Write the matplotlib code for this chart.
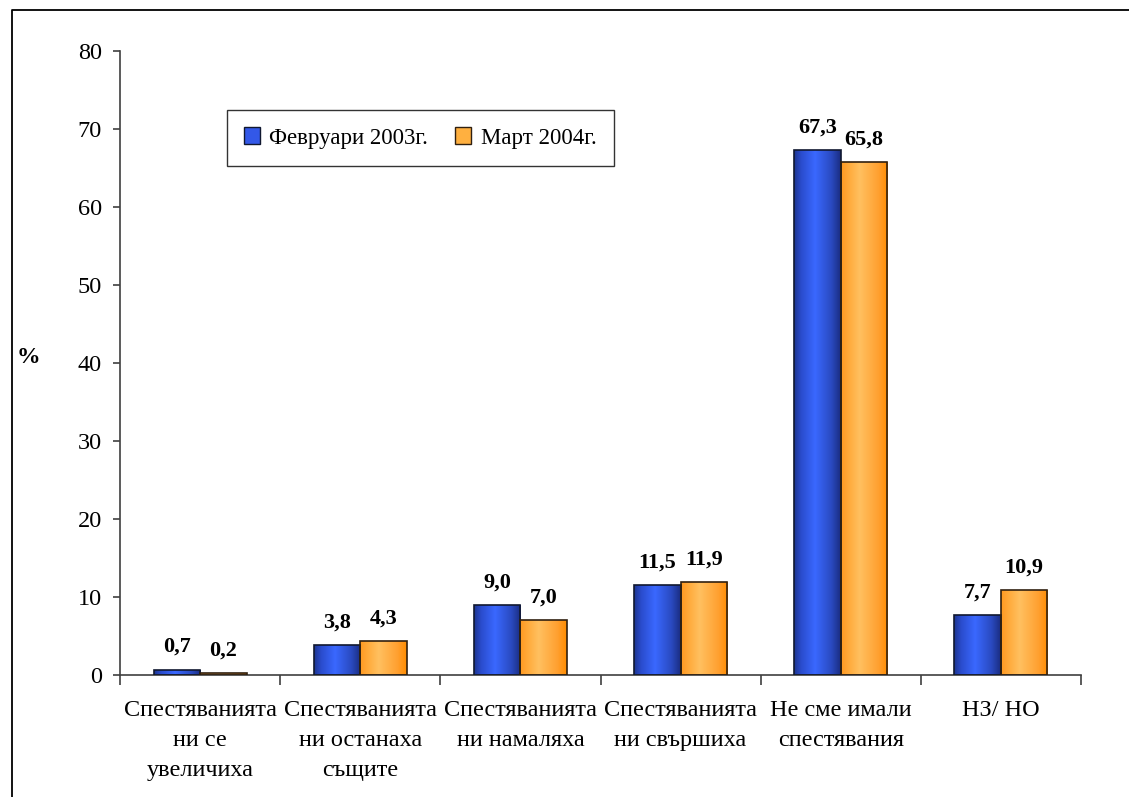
import numpy as np
import matplotlib
matplotlib.use("Agg")
from matplotlib import pyplot as plt
from matplotlib.colors import LinearSegmentedColormap
from matplotlib.lines import Line2D
from matplotlib.patches import Patch

categories = ["Спестяванията\nни се\nувеличиха",
              "Спестяванията\nни останаха\nсъщите",
              "Спестяванията\nни намаляха",
              "Спестяванията\nни свършиха",
              "Не сме имали\nспестявания",
              "НЗ/ НО"]
feb_2003 = [0.7, 3.8, 9.0, 11.5, 67.3, 7.7]
mar_2004 = [0.2, 4.3, 7.0, 11.9, 65.8, 10.9]
series_names = ["Февруари 2003г.", "Март 2004г."]
y_ticks = [0, 10, 20, 30, 40, 50, 60, 70, 80]

plt.rcParams['font.family'] = ['Liberation Serif', 'DejaVu Serif']

blue_cmap = LinearSegmentedColormap.from_list(
    "b", [(0, "#1d3590"), (0.15, "#2a4ccc"), (0.45, "#3a68ff"), (0.8, "#2a4ac0"), (1, "#1a2c80")])
orange_cmap = LinearSegmentedColormap.from_list(
    "o", [(0, "#ff9a20"), (0.4, "#ffc060"), (0.8, "#ffa030"), (1, "#ff8c00")])

fig = plt.figure(figsize=(11.29, 7.97), dpi=100)
ax = fig.add_axes([120/1129, 1-675/797, 961/1129, 624/797])

# outer frame (only top and left visible in the original)
fig.add_artist(Line2D([12/1129, 12/1129, 1.0], [0.0, 1-10/797, 1-10/797],
                      transform=fig.transFigure, color="black", lw=1.3))

x = np.arange(len(categories))
w = 0.29
grad = np.linspace(0, 1, 256).reshape(1, -1)


def gradient_bars(xs, vals, cmap, edge):
    bars = ax.bar(xs, vals, w, fill=False, edgecolor=edge, linewidth=1.2, zorder=3)
    for r in bars:
        x0, y0 = r.get_x(), r.get_y()
        im = ax.imshow(grad, extent=[x0, x0 + r.get_width(), y0, y0 + r.get_height()],
                       aspect="auto", cmap=cmap, zorder=2, interpolation="bilinear")
        im.set_clip_path(r)
    return bars


b1 = gradient_bars(x - w/2, feb_2003, blue_cmap, "#101830")
b2 = gradient_bars(x + w/2, mar_2004, orange_cmap, "#302010")

for bars, vals in [(b1, feb_2003), (b2, mar_2004)]:
    for r, v in zip(bars, vals):
        ax.annotate(f"{v:.1f}".replace(".", ","), (r.get_x() + r.get_width()/2, v),
                    xytext=(0, 9), textcoords="offset points", ha="center", va="bottom",
                    fontsize=16, fontweight="bold")

ax.set_xlim(-0.5, 5.5)
ax.set_ylim(0, 80)
ax.set_yticks(y_ticks)
ax.set_xticks(np.arange(-0.5, 6, 1))
ax.set_xticklabels([])
ax.set_xticks(x, minor=True)
ax.set_xticklabels(categories, minor=True, fontsize=17.5, linespacing=1.55)
ax.tick_params(axis="x", which="minor", length=0, pad=18)
ax.tick_params(axis="x", which="major", length=7, width=1.2, color="#404040")
ax.tick_params(axis="y", length=5, width=1.2, color="#404040", labelsize=17.5, pad=8)
for s in ["top", "right"]:
    ax.spines[s].set_visible(False)
for s in ["left", "bottom"]:
    ax.spines[s].set_color("#404040")
    ax.spines[s].set_linewidth(1.2)

fig.text(28/1129, 1-358/797, "%", fontsize=17, fontweight="bold", ha="center", va="center")

handles = [Patch(facecolor="#3358e8", edgecolor="#101830"),
           Patch(facecolor="#ffb040", edgecolor="#302010")]
leg = ax.legend(handles, series_names, loc="upper left", bbox_to_anchor=(0.111, 0.905),
                ncol=2, fontsize=16.5, frameon=True, fancybox=False, edgecolor="black",
                handlelength=0.7, handleheight=0.7, handletextpad=0.4, columnspacing=1.2,
                borderpad=0.75, borderaxespad=0)
leg.get_frame().set_linewidth(1.0)

fig.savefig("out.png", dpi=100)
